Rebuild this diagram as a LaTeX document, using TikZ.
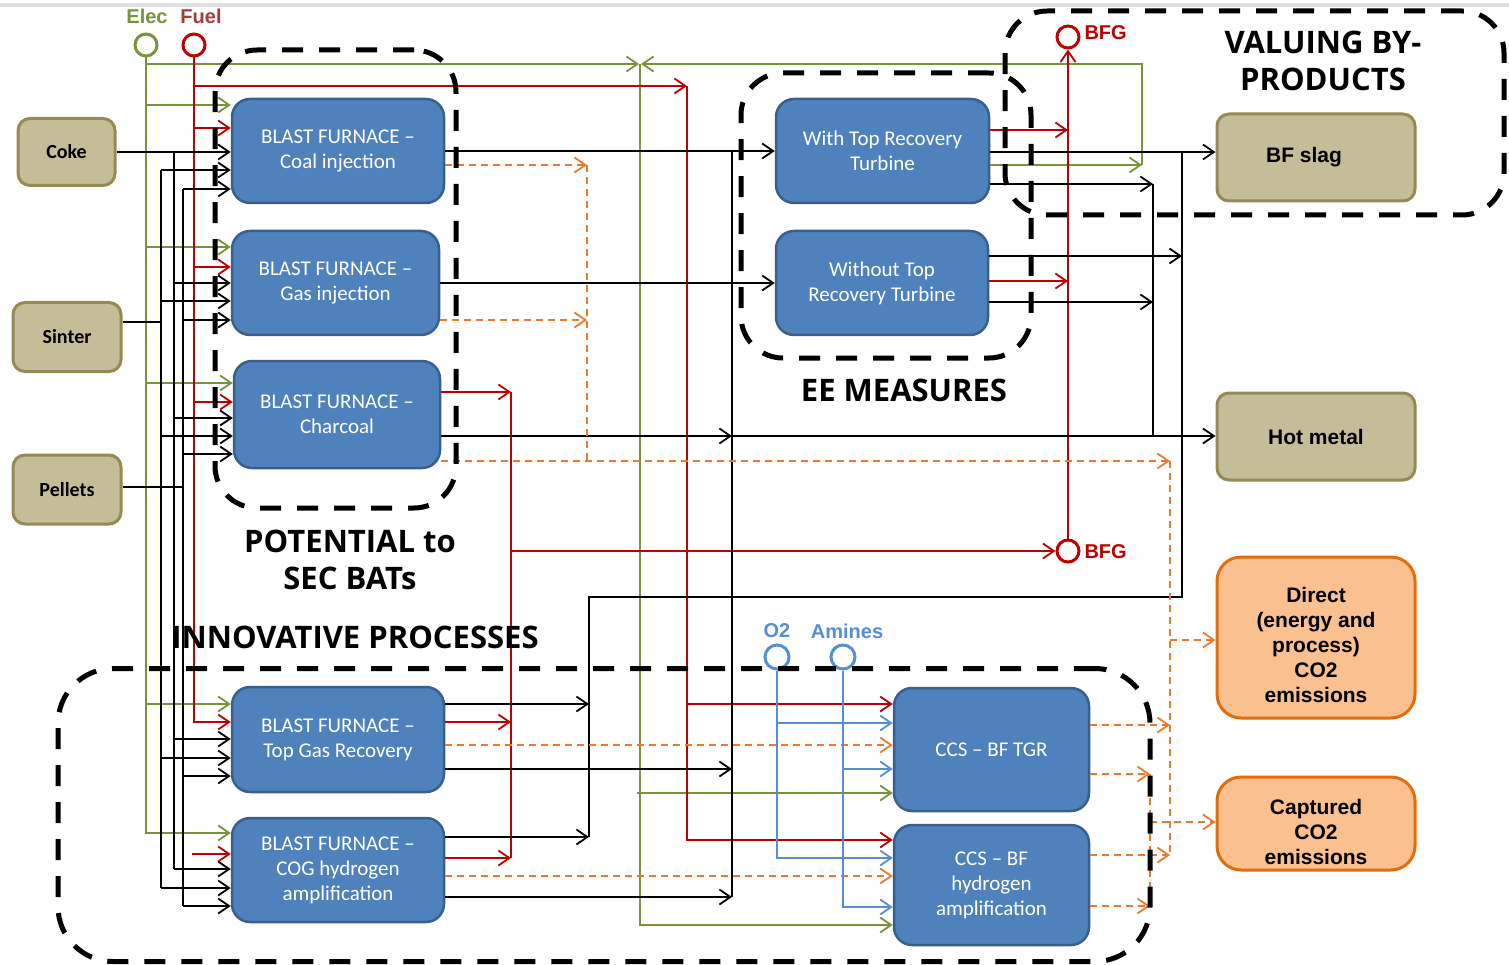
\documentclass[tikz,border=0pt]{standalone}
\usepackage{fontspec}
\usepackage{xcolor}
\usepackage{tikz}
\usetikzlibrary{arrows.meta}

\setmainfont{Carlito}
\newfontfamily\arialfont{Liberation Sans}
\newfontfamily\headfont{Open Sans}

\definecolor{procblue}{HTML}{4F81BD}
\definecolor{procedge}{HTML}{3A5F8C}
\definecolor{feedtan}{HTML}{C4BD97}
\definecolor{feededge}{HTML}{948A54}
\definecolor{emisfill}{HTML}{FAC090}
\definecolor{emisedge}{HTML}{E46C0A}
\definecolor{elecgreen}{HTML}{77933C}
\definecolor{fuelred}{HTML}{C00000}
\definecolor{fueldark}{HTML}{A33B3B}
\definecolor{co2orange}{HTML}{EC7A2C}
\definecolor{gasblue}{HTML}{558ED5}

\begin{document}
\begin{tikzpicture}[
            x=1pt, y=-1pt,
            box/.style={
                    draw,
                    rounded corners=18pt,
                    align=center,
                    inner sep=2pt
                },
            proc/.style={
                    box,
                    fill=procblue,
                    draw=procedge,
                    line width=2.5pt,
                    text=white,
                    font=\fontsize{21}{25}\selectfont
                },
            feed/.style={
                    box,
                    rounded corners=12pt,
                    fill=feedtan,
                    draw=feededge,
                    line width=3pt,
                    font=\bfseries\fontsize{20}{24}\selectfont
                },
            product/.style={
                    feed,
                    font=\arialfont\bfseries\fontsize{21}{25}\selectfont
                },
            emis/.style={
                    box,
                    rounded corners=24pt,
                    fill=emisfill,
                    draw=emisedge,
                    line width=3pt,
                    font=\arialfont\bfseries\fontsize{21}{25}\selectfont
                },
            group/.style={
                    draw,
                    line width=5pt,
                    dash pattern=on 21pt off 16pt,
                    rounded corners=42pt,
                    inner sep=0pt
                },
            grouplabel/.style={
                    align=center,
                    font=\headfont\bfseries\fontsize{31}{37}\selectfont
                },
            port/.style={
                    circle,
                    draw,
                    line width=3pt,
                    minimum size=22pt,
                    inner sep=0pt
                },
            portlabel/.style={
                    font=\arialfont\bfseries\fontsize{20}{24}\selectfont
                },
            flow/.style={
                    line width=1.8pt
                },
            arrow/.style={
                    flow,
                    -{Straight Barb[length=11pt,width=15pt]}
                },
            elecarrow/.style={arrow, elecgreen},
            fuel/.style={flow, fuelred},
            fuelarrow/.style={arrow, fuelred},
            mass/.style={flow, black},
            massarrow/.style={arrow, black},
            co2/.style={flow, co2orange, dash pattern=on 7pt off 5pt},
            co2arrow/.style={arrow, co2orange, dash pattern=on 7pt off 5pt},
            chemarrow/.style={arrow, gasblue}
        ]

        \useasboundingbox (0,0) rectangle (1509,965);
        \draw[line width=4pt, black!12] (0,5) -- (1509,5);


        \node[feed, minimum width=97pt, minimum height=67pt] (coke) at (66.5,152) {Coke};
        \node[feed, minimum width=108pt, minimum height=69pt] (sinter) at (67,337) {Sinter};
        \node[feed, minimum width=108pt, minimum height=69pt] (pellets) at (67,489.5) {Pellets};


        \node[proc, minimum width=212pt, minimum height=104pt] (coal) at (338,151)
        {BLAST FURNACE –\\Coal injection};
        \node[proc, minimum width=207pt, minimum height=104pt] (gasinj) at (335.5,283)
        {BLAST FURNACE –\\Gas injection};
        \node[proc, minimum width=206pt, minimum height=107pt] (charc) at (337,414.5)
        {BLAST FURNACE –\\Charcoal};
        \node[proc, minimum width=212pt, minimum height=105pt] (tgr) at (338,739.5)
        {BLAST FURNACE –\\Top Gas Recovery};
        \node[proc, minimum width=212pt, minimum height=104pt] (cog) at (338,870)
        {BLAST FURNACE –\\COG hydrogen\\amplification};
        \node[proc, minimum width=213pt, minimum height=104pt] (wtop) at (882.5,151)
        {With Top Recovery\\Turbine};
        \node[proc, minimum width=212pt, minimum height=104pt] (wotop) at (882,283)
        {Without Top\\Recovery Turbine};
        \node[proc, minimum width=195pt, minimum height=123pt] (ccstgr) at (991.5,749.5)
        {CCS – BF TGR};
        \node[proc, minimum width=195pt, minimum height=120pt] (ccshyd) at (991.5,885)
        {CCS – BF\\hydrogen\\amplification};


        \node[product, minimum width=198pt, minimum height=87pt] (slag) at (1316,157.5) {BF slag\hspace*{24pt}};
        \node[product, minimum width=198pt, minimum height=87pt] (hotmetal) at (1316,436.5) {Hot metal};
        \node[emis, minimum width=198pt, minimum height=161pt] (direct) at (1316,637.5)
        {\raisebox{0pt}[30pt]{Direct}\\(energy and\\process)\\CO2\\emissions};
        \node[emis, minimum width=198pt, minimum height=93pt] (captured) at (1316,823.5)
        {\raisebox{0pt}[33pt]{Captured}\\CO2\\emissions};


        \node[port, draw=elecgreen] (elec) at (146,45) {};
        \node[port, draw=fuelred] (fuelin) at (194,45) {};
        \node[portlabel, text=elecgreen] (eleclabel) at (147,16) {Elec};
        \node[portlabel, text=fueldark] (fuellabel) at (201,16) {Fuel};
        \node[port, draw=fuelred] (bfgtop) at (1068,37) {};
        \node[port, draw=fuelred] (bfgbot) at (1068,551) {};
        \node[portlabel, text=fuelred, anchor=west] (bfgtoplabel) at (1081,33) {BFG};
        \node[portlabel, text=fuelred, anchor=west] (bfgbotlabel) at (1081,552) {BFG};
        \node[port, draw=gasblue, minimum size=24pt] (o2) at (777,657) {};
        \node[port, draw=gasblue, minimum size=24pt] (amines) at (843,657) {};
        \node[portlabel, text=gasblue] (o2label) at (777,631) {O2};
        \node[portlabel, text=gasblue] (amlabel) at (847,631) {Amines};


        \draw[elecarrow] (elec.south) |- (639,64);
        \draw[elecarrow] (elec.south) |- (coal.west |- 0,105);
        \draw[elecarrow] (elec.south) |- (gasinj.west |- 0,247);
        \draw[elecarrow] (elec.south) |- (charc.west |- 0,383);
        \draw[elecarrow] (elec.south) |- (tgr.west |- 0,704);
        \draw[elecarrow] (elec.south) |- (cog.west |- 0,833);
        \draw[elecarrow] (wtop.east |- 0,165) -- (1142,165);
        \draw[elecarrow] (1142,165) -- (1142,64) -- (641,64);
        \draw[elecarrow] (640,64) |- (ccshyd.west |- 0,925);
        \draw[elecarrow] (637,793) -- (ccstgr.west |- 0,793);


        \draw[fuelarrow] (fuelin.south) |- (coal.west |- 0,128);
        \draw[fuelarrow] (fuelin.south) |- (gasinj.west |- 0,267);
        \draw[fuelarrow] (fuelin.south) |- (charc.west |- 0,402);
        \draw[fuelarrow] (fuelin.south) |- (tgr.west |- 0,722);
        \draw[fuelarrow] (192,854) -- (cog.west |- 0,854);
        \draw[fuelarrow] (fuelin.south) |- (687,86);
        \draw[fuelarrow] (687,86) |- (ccshyd.west |- 0,840);
        \draw[fuelarrow] (687,704) -- (ccstgr.west |- 0,704);


        \draw[fuelarrow] (charc.east |- 0,392) -- (511,392);
        \draw[fuel] (511,392) -- (511,858);
        \draw[fuelarrow] (511,551) -- (bfgbot);
        \draw[fuelarrow] (tgr.east |- 0,722) -- (511,722);
        \draw[fuelarrow] (cog.east |- 0,858) -- (511,858);
        \draw[fuelarrow] (bfgbot) -- (bfgtop);
        \draw[fuelarrow] (wtop.east |- 0,130) -- (1068,130);
        \draw[fuelarrow] (wotop.east |- 0,281) -- (1068,281);


        \draw[massarrow] (coke.east) -- (coal.west |- coke.east);
        \draw[mass] (sinter.east |- 0,322) -- (161,322);
        \draw[mass] (pellets.east |- 0,487) -- (183,487);
        \draw[mass] (174,152) -- (174,869);
        \draw[mass] (161,170) -- (161,888);
        \draw[mass] (183,189) -- (183,906);
        \draw[massarrow] (161,170) -- (coal.west |- 0,170);
        \draw[massarrow] (183,189) -- (coal.west |- 0,189);
        \draw[massarrow] (174,283) -- (gasinj.west |- 0,283);
        \draw[massarrow] (161,301) -- (gasinj.west |- 0,301);
        \draw[massarrow] (183,320) -- (gasinj.west |- 0,320);
        \draw[massarrow] (174,418) -- (charc.west |- 0,418);
        \draw[massarrow] (161,436) -- (charc.west |- 0,436);
        \draw[massarrow] (183,454) -- (charc.west |- 0,454);
        \draw[massarrow] (174,739) -- (tgr.west |- 0,739);
        \draw[massarrow] (161,758) -- (tgr.west |- 0,758);
        \draw[massarrow] (183,776) -- (tgr.west |- 0,776);
        \draw[massarrow] (174,869) -- (cog.west |- 0,869);
        \draw[massarrow] (161,888) -- (cog.west |- 0,888);
        \draw[massarrow] (183,906) -- (cog.west |- 0,906);


        \draw[massarrow] (coal) -- (wtop);
        \draw[massarrow] (gasinj) -- (wotop);
        \draw[mass] (732,152) -- (732,897);
        \draw[massarrow] (charc.east |- 0,436) -- (732,436);
        \draw[massarrow] (732,436) -- (hotmetal.west |- 0,436);
        \draw[massarrow] (tgr.east |- 0,769) -- (732,769);
        \draw[massarrow] (cog.east |- 0,897) -- (732,897);
        \draw[massarrow] (wtop.east |- 0,152) -- (slag.west |- 0,152);
        \draw[massarrow] (wtop.east |- 0,184) -- (1153,184);
        \draw[mass] (1153,184) -- (1153,436);
        \draw[massarrow] (wotop.east |- 0,302) -- (1153,302);
        \draw[massarrow] (wotop.east |- 0,256) -- (1182,256);
        \draw[mass] (1182,152) -- (1182,597) -- (589,597) -- (589,837);
        \draw[massarrow] (tgr.east |- 0,704) -- (589,704);
        \draw[massarrow] (cog.east |- 0,837) -- (589,837);


        \draw[co2arrow] (coal.east |- 0,165) -- (587,165);
        \draw[co2arrow] (gasinj.east |- 0,320) -- (587,320);
        \draw[co2] (587,165) -- (587,461);
        \draw[co2arrow] (charc.east |- 0,461) -- (1170,461);
        \draw[co2] (1170,461) -- (1170,855);
        \draw[co2arrow] (1170,640) -- (direct.west |- 0,640);
        \draw[co2arrow] (tgr.east |- 0,745) -- (ccstgr.west |- 0,745);
        \draw[co2arrow] (cog.east |- 0,876) -- (ccshyd.west |- 0,876);
        \draw[co2arrow] (ccstgr.east |- 0,725) -- (1170,725);
        \draw[co2arrow] (ccstgr.east |- 0,774) -- (1150,774);
        \draw[co2arrow] (ccshyd.east |- 0,855) -- (1170,855);
        \draw[co2arrow] (ccshyd.east |- 0,906) -- (1150,906);
        \draw[co2] (1150,774) -- (1150,906);
        \draw[co2arrow] (1150,822) -- (captured.west |- 0,822);


        \draw[chemarrow] (o2.south) |- (ccstgr.west |- 0,723);
        \draw[chemarrow] (o2.south) |- (ccshyd.west |- 0,858);
        \draw[chemarrow] (amines.south) |- (ccstgr.west |- 0,769);
        \draw[chemarrow] (amines.south) |- (ccshyd.west |- 0,907);


        \node[group, minimum width=241pt, minimum height=458pt] (potgroup) at (335.5,279) {};
        \node[group, minimum width=290pt, minimum height=285pt] (eegroup) at (886,215.5) {};
        \node[group, minimum width=499pt, minimum height=204pt] (valgroup) at (1254.5,113) {};
        \node[group, rounded corners=55pt, minimum width=1092pt, minimum height=293pt] (innogroup) at (604,815) {};


        \node[grouplabel] (potlabel) at (350,560) {POTENTIAL to\\SEC BATs};
        \node[grouplabel] (eelabel) at (904,390) {EE MEASURES};
        \node[grouplabel] (vallabel) at (1323,61) {VALUING BY-\\PRODUCTS};
        \node[grouplabel] (innolabel) at (355,637) {INNOVATIVE PROCESSES};


    \end{tikzpicture}
\end{document}
